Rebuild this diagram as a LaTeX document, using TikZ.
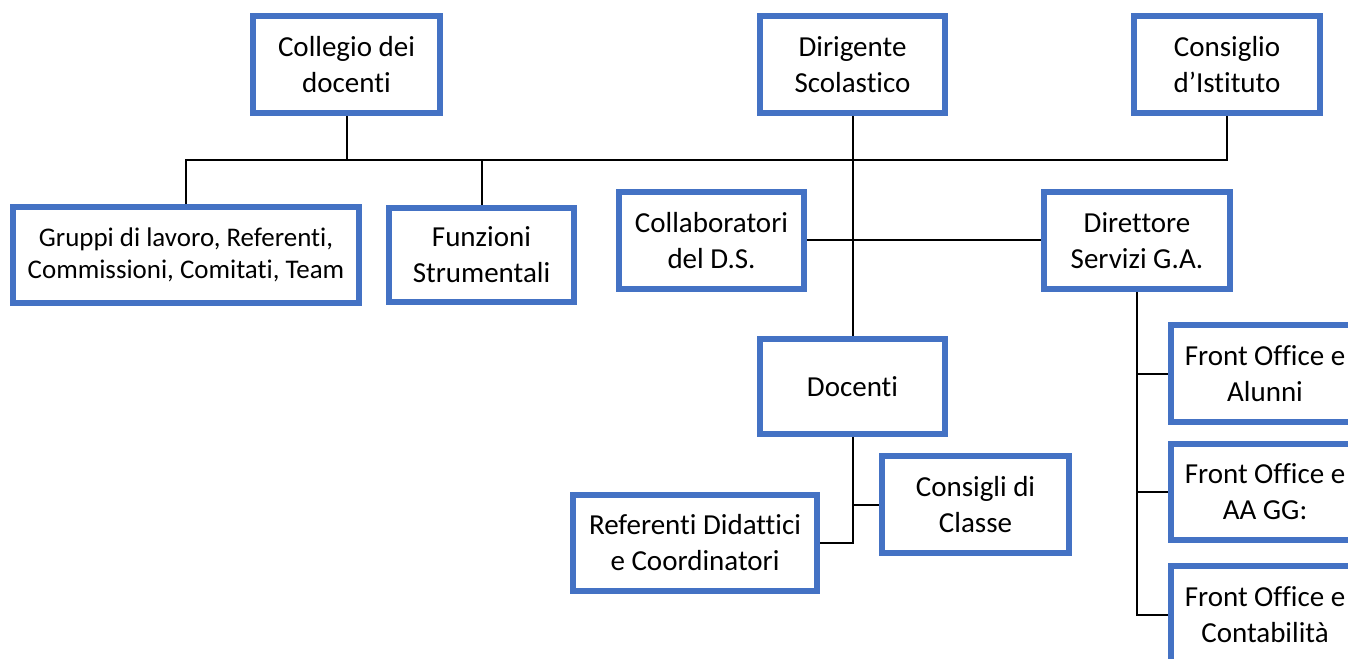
\documentclass[tikz,border=0pt]{standalone}
\usepackage{fontspec}
\setmainfont[RawFeature={-liga}]{Carlito}
\usetikzlibrary{backgrounds}
\definecolor{boxblue}{HTML}{4472C4}
\begin{document}
\begin{tikzpicture}[x=0.75pt,y=-0.75pt,
  orgbox/.style={draw=boxblue,line width=4.5pt,fill=white,inner sep=0pt,align=center,
    font=\fontsize{21.75}{27}\selectfont},
  small/.style={font=\fontsize{20.2}{23.5}\selectfont},
  conn/.style={line width=1.5pt,black}]
\useasboundingbox (0,0) rectangle (1348,659);
\clip (0,0) rectangle (1348,659);
\node[orgbox,minimum width=140.25pt,minimum height=72.75pt] (col) at (346.5,64.5) {Collegio dei\\docenti};
\node[orgbox,minimum width=138.75pt,minimum height=72.75pt] (dir) at (852.5,64.5) {Dirigente\\Scolastico};
\node[orgbox,minimum width=139.5pt,minimum height=72.75pt] (cons) at (1227,64.5) {Consiglio\\d’Istituto};
\node[orgbox,small,minimum width=259.5pt,minimum height=72pt] (grup) at (186,255) {Gruppi di lavoro, Referenti,\\Commissioni, Comitati, Team};
\node[orgbox,minimum width=138.75pt,minimum height=70.5pt] (funz) at (481.5,255) {Funzioni\\Strumentali};
\node[orgbox,minimum width=138.75pt,minimum height=72.75pt] (coll) at (711.5,240.5) {Collaboratori\\del D.S.};
\node[orgbox,minimum width=139.5pt,minimum height=72.75pt] (dsga) at (1137,240.5) {Direttore\\Servizi G.A.};
\node[orgbox,minimum width=138.75pt,minimum height=71.25pt] (doc) at (852.5,386.5) {Docenti};
\node[orgbox,minimum width=183pt,minimum height=72pt] (ref) at (695,543) {Referenti Didattici\\e Coordinatori};
\node[orgbox,minimum width=140.25pt,minimum height=72.75pt] (cdc) at (975.5,504.5) {Consigli di\\Classe};
\node[orgbox,minimum width=141pt,minimum height=72.75pt] (fo1) at (1265,373.5) {Front Office e\\Alunni};
\node[orgbox,minimum width=141pt,minimum height=72pt] (fo2) at (1265,492) {Front Office e\\AA GG:};
\node[orgbox,minimum width=141pt,minimum height=72.75pt] (fo3) at (1265,614.5) {Front Office e\\Contabilità};
\coordinate (bus) at (346,160);
\begin{scope}[on background layer]
\draw[conn] (col.south) -- (col.south |- bus) -| (grup.north);
\draw[conn] (col.south |- bus) -| (funz.north);
\draw[conn] (cons.south) -- (cons.south |- bus) -- (col.south |- bus);
\draw[conn] (dir.south) -- (doc.north);
\draw[conn] (coll.east) -- (dsga.west);
\draw[conn] (doc.south) |- (ref.east);
\draw[conn] (doc.south |- cdc.west) -- (cdc.west);
\draw[conn] (dsga.south) |- (fo3.west);
\draw[conn] (dsga.south |- fo1.west) -- (fo1.west);
\draw[conn] (dsga.south |- fo2.west) -- (fo2.west);
\end{scope}
\end{tikzpicture}
\end{document}
